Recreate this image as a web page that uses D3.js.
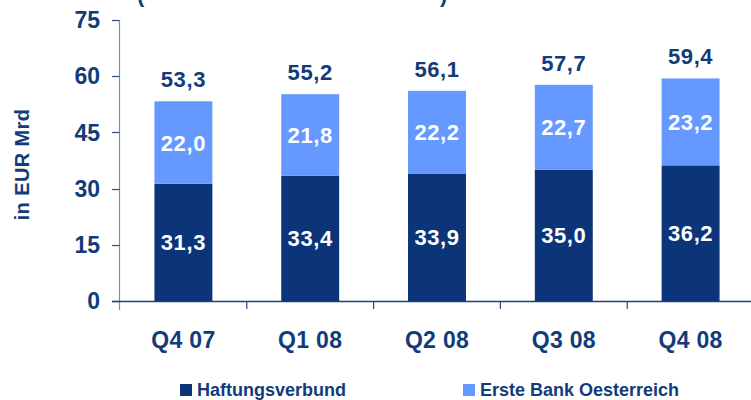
<!DOCTYPE html>
<html><head><meta charset="utf-8">
<script src="https://cdn.jsdelivr.net/npm/d3@7"></script>
<style>body{margin:0;background:#fff}svg{display:block}text{font-family:"Liberation Sans",Arial,sans-serif;font-weight:bold}</style>
</head><body><svg id="c" width="751" height="400"></svg>
<script>
const categories = ["Q4 07","Q1 08","Q2 08","Q3 08","Q4 08"];
const haftung = [31.3,33.4,33.9,35.0,36.2];
const erste = [22.0,21.8,22.2,22.7,23.2];
const totals = [53.3,55.2,56.1,57.7,59.4];
const yTicks = [0,15,30,45,60,75];
const seriesNames = ["Haftungsverbund","Erste Bank Oesterreich"];

const dark = "#0B3578", light = "#6699FF", txt = "#123B7A";
const svg = d3.select("#c");
const fmt = v => d3.format(".1f")(v).replace(".", ",");

const x = d3.scaleBand().domain(categories).range([120, 754]).paddingInner(0.543).paddingOuter(0.2715);
const xb = d3.scaleBand().domain(categories).range([120, 754]);
const y = d3.scaleLinear().domain([0,75]).range([301,20]);

// cut-off title parentheses
svg.append("text").attr("x",137).attr("y",2).attr("font-size",22).attr("fill",txt).text("(");
svg.append("text").attr("x",440).attr("y",2).attr("font-size",22).attr("fill",txt).text(")");

// y axis
svg.append("line").attr("x1",119.5).attr("x2",119.5).attr("y1",20).attr("y2",310).attr("stroke","#7b8fb3").attr("stroke-width",1.2);
svg.selectAll(".yt").data(yTicks).enter().append("line")
  .attr("x1",112).attr("x2",119.5).attr("y1",d=>Math.round(y(d))+0.5).attr("y2",d=>Math.round(y(d))+0.5)
  .attr("stroke","#2b4a85").attr("stroke-width",1.2);
svg.selectAll(".yl").data(yTicks).enter().append("text")
  .attr("x",100).attr("y",d=>y(d)).attr("dy","0.36em").attr("text-anchor","end")
  .attr("font-size",23).attr("fill",txt).text(d=>d);
svg.append("text").attr("transform","translate(29,164.5) rotate(-90)").attr("text-anchor","middle")
  .attr("font-size",20).attr("letter-spacing",0.4).attr("fill",txt).text("in EUR Mrd");

// bars
const g = svg.append("g");
categories.forEach((c,i)=>{
  g.append("rect").attr("x",x(c)).attr("width",x.bandwidth()).attr("y",y(haftung[i])).attr("height",y(0)-y(haftung[i])).attr("fill",dark);
  g.append("rect").attr("x",x(c)).attr("width",x.bandwidth()).attr("y",y(totals[i])).attr("height",y(haftung[i])-y(totals[i])).attr("fill",light);
  const cx = x(c)+x.bandwidth()/2;
  const lab = (yy, t, col) => g.append("text").attr("x",cx).attr("y",yy).attr("text-anchor","middle")
      .attr("font-size",22).attr("letter-spacing",0.6).attr("fill",col).text(t);
  lab((y(0)+y(haftung[i]))/2 + 8, fmt(haftung[i]), "#fff");
  lab((y(haftung[i])+y(totals[i]))/2 + 8, fmt(erste[i]), "#fff");
  lab(y(totals[i])-14, fmt(totals[i]), txt);
});

// x axis
svg.append("line").attr("x1",112).attr("x2",751).attr("y1",301.5).attr("y2",301.5).attr("stroke","#1f3f7a").attr("stroke-width",1.5);
svg.selectAll(".xt").data(categories.slice(1)).enter().append("line")
  .attr("x1",d=>xb(d)).attr("x2",d=>xb(d)).attr("y1",301).attr("y2",309).attr("stroke","#2b4a85").attr("stroke-width",1.2);
svg.selectAll(".xl").data(categories).enter().append("text")
  .attr("x",d=>xb(d)+xb.bandwidth()/2).attr("y",348).attr("text-anchor","middle")
  .attr("font-size",23).attr("letter-spacing",0.3).attr("fill",txt).text(d=>d);

// legend
const lx = [180,463], cols=[dark,light];
seriesNames.forEach((n,i)=>{
  svg.append("rect").attr("x",lx[i]).attr("y",384).attr("width",12).attr("height",12).attr("fill",cols[i]);
  svg.append("text").attr("x",lx[i]+17).attr("y",396).attr("font-size",18).attr("fill",txt).text(n);
});
</script></body></html>
